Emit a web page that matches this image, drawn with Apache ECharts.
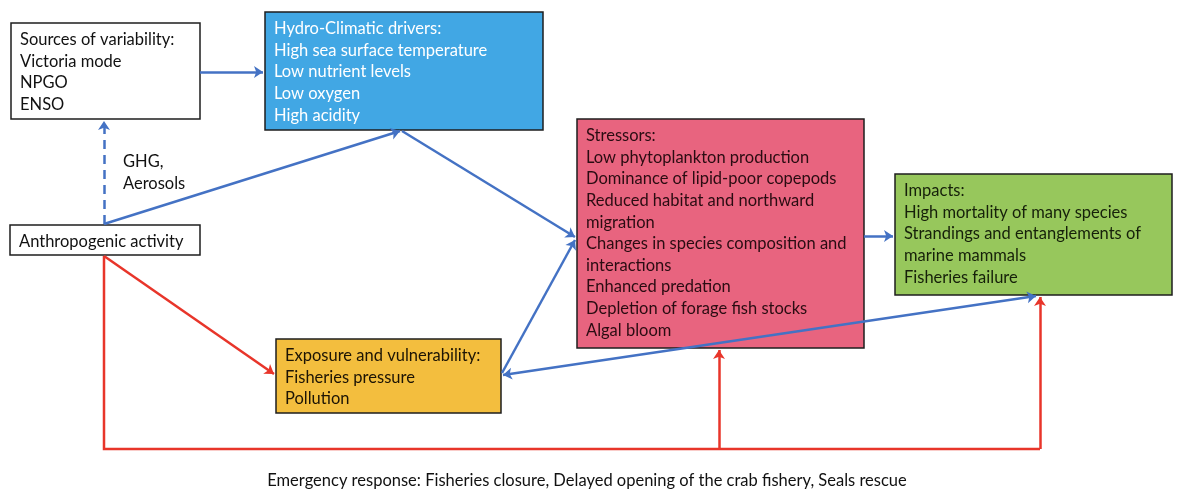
<!DOCTYPE html>
<html>
<head>
<meta charset="utf-8">
<script src="https://cdn.jsdelivr.net/npm/echarts@6/dist/echarts.min.js"></script>
<style>
  html, body { margin: 0; padding: 0; background: #fff; }
  #main { width: 1177px; height: 493px; }
</style>
</head>
<body>
<div id="main"></div>
<script>
// box contents
const boxTexts = [
  ['Sources of variability:', 'Victoria mode', 'NPGO', 'ENSO'],
  ['Hydro-Climatic drivers:', 'High sea surface temperature', 'Low nutrient levels', 'Low oxygen', 'High acidity'],
  ['Anthropogenic activity'],
  ['Stressors:', 'Low phytoplankton production', 'Dominance of lipid-poor copepods', 'Reduced habitat and northward',
    'migration', 'Changes in species composition and', 'interactions', 'Enhanced predation',
    'Depletion of forage fish stocks', 'Algal bloom'],
  ['Impacts:', 'High mortality of many species', 'Strandings and entanglements of', 'marine mammals', 'Fisheries failure'],
  ['Exposure and vulnerability:', 'Fisheries pressure', 'Pollution']
]
// box extents in diagram units [x0, y0, x1, y1]
const boxExtents = [
  [11, 23, 200, 119],
  [265, 12, 543, 130],
  [10, 225, 200, 255],
  [577, 119, 864, 348],
  [895, 174, 1172, 295],
  [276, 339, 501, 413]
]
// arrows (diagram units)
const blueArrows = [
  [[200, 72], [263, 72]],
  [[104, 224], [400, 131]],
  [[402, 131], [575, 237]],
  [[502, 373], [575, 240]],
  [[864, 236], [893, 236]]
]
const dashedArrows = [[[104, 224], [104, 121]]]
const twoWayArrows = [[[503, 375], [1036, 296]]]
const redArrows = [
  [[104, 256], [274, 374]],
  [[719, 449], [719, 350]],
  [[1040, 449], [1040, 297]]
]
// red route along the bottom, no head
const redRoute = [[[104, 256], [104, 449], [1040, 449]]]
// free labels
const labelTexts = ['GHG,\nAerosols', 'Emergency response: Fisheries closure, Delayed opening of the crab fishery, Seals rescue']
const labelPos = [[123, 151], [587, 470]]

const boxFills = ['#ffffff', '#41a7e4', '#ffffff', '#e8647f', '#97c75c', '#f3be3e']
const boxTextColors = ['#111111', '#ffffff', '#111111', '#2a0c12', '#16200a', '#1c1405']
const FONT = 'Lato, "Open Sans", sans-serif'

var myChart = echarts.init(document.getElementById('main'))

const option = {
  animation: false,
  grid: { left: 0, right: 0, top: 0, bottom: 0 },
  xAxis: { type: 'value', min: 0, max: 1177, show: false },
  yAxis: { type: 'value', min: 0, max: 493, inverse: true, show: false },
  series: [
    {
      type: 'custom',
      coordinateSystem: 'cartesian2d',
      clip: false,
      z: 1,
      data: boxExtents.map((b, i) => [b[0], b[1], b[2], b[3], i]),
      renderItem: function (params, api) {
        const p0 = api.coord([api.value(0), api.value(1)])
        const p1 = api.coord([api.value(2), api.value(3)])
        const i = api.value(4)
        return {
          type: 'group',
          children: [
            {
              type: 'rect',
              shape: { x: p0[0], y: p0[1], width: p1[0] - p0[0], height: p1[1] - p0[1] },
              style: { fill: boxFills[i], stroke: '#1e1e1e', lineWidth: 1.5 }
            },
            {
              type: 'text',
              x: p0[0] + 9,
              y: p0[1] + 6,
              style: {
                text: boxTexts[i].join('\n'),
                font: '16.5px ' + FONT,
                lineHeight: 21.6,
                fill: boxTextColors[i],
                verticalAlign: 'top',
                align: 'left'
              }
            }
          ]
        }
      }
    },
    {
      type: 'custom',
      coordinateSystem: 'cartesian2d',
      clip: false,
      z: 1,
      data: labelPos.map((p, i) => [p[0], p[1], i]),
      renderItem: function (params, api) {
        const p = api.coord([api.value(0), api.value(1)])
        const i = api.value(2)
        return {
          type: 'text',
          x: p[0],
          y: p[1],
          style: {
            text: labelTexts[i],
            font: '16.5px ' + FONT,
            lineHeight: 22,
            fill: '#111',
            verticalAlign: 'top',
            align: i === 1 ? 'center' : 'left'
          }
        }
      }
    },
    {
      type: 'lines',
      coordinateSystem: 'cartesian2d',
      z: 5,
      symbol: ['none', 'arrow'],
      symbolSize: 9,
      lineStyle: { color: '#4472c4', width: 2.5, opacity: 1 },
      data: blueArrows.map((c) => ({ coords: c }))
    },
    {
      type: 'lines',
      coordinateSystem: 'cartesian2d',
      z: 5,
      symbol: ['none', 'arrow'],
      symbolSize: 9,
      lineStyle: { color: '#4472c4', width: 2.5, type: [9, 6], opacity: 1 },
      data: dashedArrows.map((c) => ({ coords: c }))
    },
    {
      type: 'lines',
      coordinateSystem: 'cartesian2d',
      z: 5,
      symbol: ['arrow', 'arrow'],
      symbolSize: 9,
      lineStyle: { color: '#4472c4', width: 2.5, opacity: 1 },
      data: twoWayArrows.map((c) => ({ coords: c }))
    },
    {
      type: 'lines',
      coordinateSystem: 'cartesian2d',
      polyline: true,
      z: 5,
      lineStyle: { color: '#e8352a', width: 2.5, opacity: 1 },
      data: redRoute.map((c) => ({ coords: c }))
    },
    {
      type: 'lines',
      coordinateSystem: 'cartesian2d',
      z: 5,
      symbol: ['none', 'arrow'],
      symbolSize: 9,
      lineStyle: { color: '#e8352a', width: 2.5, opacity: 1 },
      data: redArrows.map((c) => ({ coords: c }))
    }
  ]
}

myChart.setOption(option)
</script>
</body>
</html>
